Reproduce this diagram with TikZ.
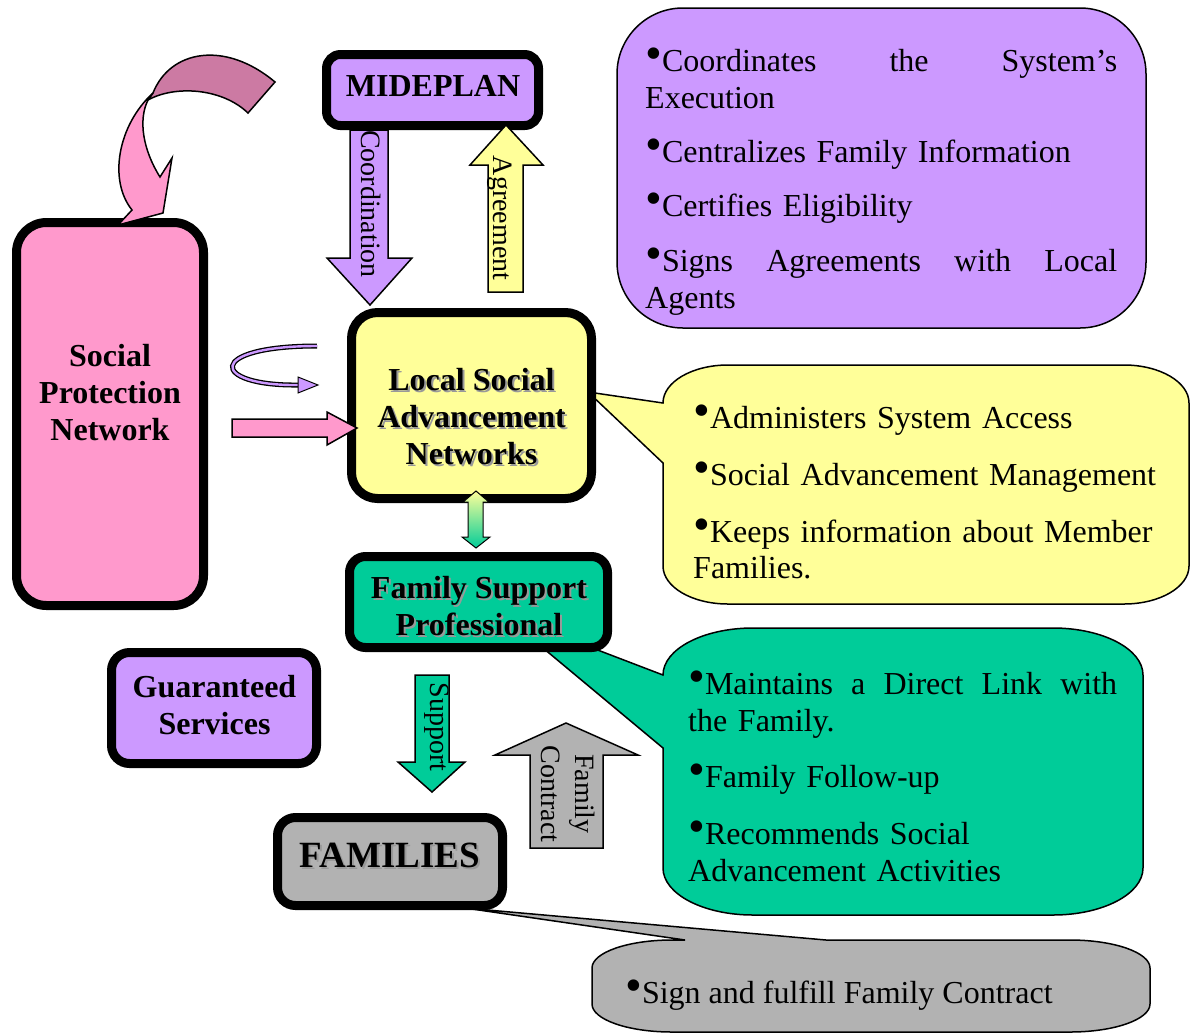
\documentclass[tikz,border=0pt]{standalone}
\usepackage{fontspec}
\setmainfont{Liberation Serif}
\usepackage{graphicx}
\usepackage{tikz}
\usepackage{xcolor}
\usetikzlibrary{calc}

% Fill colours
\definecolor{lilac}{HTML}{CC99FF}
\definecolor{rose}{HTML}{FF99CC}
\definecolor{lemon}{HTML}{FFFF99}
\definecolor{jade}{HTML}{00CC99}
\definecolor{ash}{HTML}{B2B2B2}
\definecolor{mauve}{HTML}{CC7AA3}

\newcommand{\itemdot}{\raisebox{0.04em}{\scalebox{1.5}{\textbullet}}}
\newcommand{\shadowed}[1]{\makebox[0pt][l]{\hspace{2pt}\raisebox{-2pt}{\textcolor{black!40}{#1}}}#1}

\begin{document}
\begin{tikzpicture}[
    x=1pt, y=-1pt,
    % Custom styles for the boxes and the call-outs
    orgbox/.style={draw=black, line width=9pt, rounded corners=#1, inner sep=0pt},
    orgbox/.default=20pt,
    orgtext/.style={font=\bfseries\fontsize{32}{37}\selectfont, align=center, inner sep=0pt},
    bubble/.style={draw=black, line width=1.5pt},
    bubbletext/.style={font=\fontsize{32}{37}\selectfont, align=left, inner sep=0pt, anchor=base west},
    flowarrow/.style={draw=black, line width=1.5pt, line join=miter},
    flowlabel/.style={font=\fontsize{28}{34}\selectfont, align=center, inner sep=0pt, rotate=-90}
]
\useasboundingbox (0,0) rectangle (1190,1034);

% ==========================================
% CALL-OUTS (behind the boxes)
% ==========================================
% 1. MIDEPLAN tasks
\draw[bubble, fill=lilac, rounded corners=66pt] (617,8) rectangle (1146,328);
\node[bubbletext, text width=472pt] (mideplanNote) at (645,71) {%
    \itemdot Coordinates\hfill the\hfill System’s\\
    Execution\\[17pt]
    \itemdot Centralizes Family Information\\[17pt]
    \itemdot Certifies Eligibility\\[18pt]
    \itemdot Signs\hfill Agreements\hfill with\hfill Local\\
    Agents};

% 2. Local network tasks
\draw[bubble, fill=lemon] (663,403) arc[start angle=180, end angle=270, x radius=65, y radius=38]
    -- (1124,365) arc[start angle=270, end angle=360, x radius=65, y radius=38]
    -- (1189,566) arc[start angle=0, end angle=90, x radius=65, y radius=38]
    -- (728,604) arc[start angle=90, end angle=180, x radius=65, y radius=38]
    -- (663,463) -- (588,392) -- cycle;
\node[bubbletext, text width=470pt, font=\fontsize{32}{36.5}\selectfont] (localNote) at (693,428) {%
    \itemdot Administers System Access\\[20.5pt]
    \itemdot Social Advancement Management\\[20.5pt]
    \itemdot Keeps information about Member\\
    Families.};

% 3. Professional tasks
\draw[bubble, fill=jade] (663,675) arc[start angle=180, end angle=270, x radius=90, y radius=47]
    -- (1053,628) arc[start angle=270, end angle=360, x radius=90, y radius=47]
    -- (1143,868) arc[start angle=0, end angle=90, x radius=90, y radius=47]
    -- (753,915) arc[start angle=90, end angle=180, x radius=90, y radius=47]
    -- (663,748) -- (501,613) -- cycle;
\node[bubbletext, text width=429pt] (fspNote) at (688,694) {%
    \itemdot Maintains\hfill a\hfill Direct\hfill Link\hfill with\\
    the Family.\\[19pt]
    \itemdot Family Follow-up\\[20pt]
    \itemdot Recommends Social\\
    Advancement Activities};

% 4. Family task
\draw[bubble, fill=ash] (592,968) arc[start angle=180, end angle=270, x radius=80, y radius=28]
    -- (685,940) -- (465,908) -- (826,940)
    -- (1070,940) arc[start angle=270, end angle=360, x radius=80, y radius=28]
    -- (1150,1004) arc[start angle=0, end angle=90, x radius=80, y radius=28]
    -- (672,1032) arc[start angle=90, end angle=180, x radius=80, y radius=28]
    -- cycle;
\node[bubbletext] (familyNote) at (625,1003) {\itemdot Sign and fulfill Family Contract};

% ==========================================
% BOXES
% ==========================================
\node[orgbox=30pt, fill=rose, minimum width=187pt, minimum height=383pt] (spn) at (110,414) {};
\node[orgtext] (spnText) at (110,393) {Social\\Protection\\Network};

\node[orgbox=14pt, fill=lilac, minimum width=212pt, minimum height=71pt] (mideplan) at (432.5,90) {};
\node[orgtext] (mideplanText) at (433,86) {MIDEPLAN};

\node[orgbox=26pt, fill=lemon, minimum width=240pt, minimum height=186pt] (local) at (471.5,405.5) {};
\node[orgtext] (localText) at (471.5,417.5) {\shadowed{Local Social}\\\shadowed{Advancement}\\\shadowed{Networks}};

\node[orgbox=16pt, fill=jade, minimum width=258pt, minimum height=91pt] (fsp) at (478.5,602) {};
\node[orgtext] (fspText) at (479,607.5) {\shadowed{Family Support}\\\shadowed{Professional}};

\node[orgbox=18pt, fill=lilac, minimum width=205pt, minimum height=111pt] (services) at (214,708) {};
\node[orgtext] (servicesText) at (214.5,705.5) {Guaranteed\\Services};

\node[orgbox=18pt, fill=ash, minimum width=225pt, minimum height=88pt] (families) at (390,861.5) {};
\node[orgtext, font=\bfseries\fontsize{37}{42}\selectfont] (familiesText) at (390,856.5) {\shadowed{FAMILIES}};

% ==========================================
% BLOCK ARROWS
% ==========================================
% 1. Coordination (down) and Agreement (up)
\draw[flowarrow, fill=lilac] (350,130) -- (388,130) -- (388,258) -- (412,258) -- (370,305) -- (327,258) -- (350,258) -- cycle;
\node[flowlabel] (coordLabel) at (371,204) {Coordination};
\draw[flowarrow, fill=lemon] (488,292) -- (523,292) -- (523,165) -- (543,165) -- (506,125) -- (470,165) -- (488,165) -- cycle;
\node[flowlabel] (agreeLabel) at (500,218) {Agreement};

% 2. From the protection network
\draw[flowarrow, fill=rose] (232,419) -- (327,419) -- (327,412) -- (357,428) -- (327,445) -- (327,437) -- (232,437) -- cycle;
\coordinate (loopStart) at (317,346);
\coordinate (loopEnd) at (298,385);
\coordinate (loopTip) at (318,385);
\draw[line width=2.4pt, lilac, preaction={draw=black, line width=5pt}] (loopStart) .. controls (205,346) and (210,386) .. (loopEnd);
\draw[flowarrow, line width=1pt, fill=lilac] (298,377) -- (loopTip) -- (298,393) -- cycle;

% 3. Two-way link between network and professional
\shadedraw[top color=lemon, bottom color=jade, draw=black, line width=1pt]
    (476,491) -- (489,502) -- (483,502) -- (483,537) -- (490,537) -- (476,548)
    -- (462,537) -- (468,537) -- (468,502) -- (463,502) -- cycle;

% 4. Support (down) and Family Contract (up)
\draw[flowarrow, fill=jade] (415,675) -- (449,675) -- (449,762) -- (465,762) -- (432,792) -- (398,762) -- (415,762) -- cycle;
\node[flowlabel] (supportLabel) at (437,727) {Support};
\draw[flowarrow, fill=ash] (530,848) -- (603,848) -- (603,755) -- (638,755) -- (566,723) -- (495,755) -- (530,755) -- cycle;
\node[flowlabel] (contractLabel) at (568,794) {Family\\Contract};

% 5. Curved arrow into the protection network
\draw[flowarrow, fill=mauve] (275,82) .. controls (225,40) and (170,50) .. (153,93)
    -- (148,100) .. controls (175,85) and (222,88) .. (248,113) -- cycle;
\draw[flowarrow, fill=rose] (153,93) .. controls (118,125) and (108,180) .. (132,210)
    -- (118,225) -- (163,213) -- (172,158) -- (160,177)
    .. controls (143,150) and (138,120) .. (148,100) -- cycle;

\end{tikzpicture}
\end{document}
